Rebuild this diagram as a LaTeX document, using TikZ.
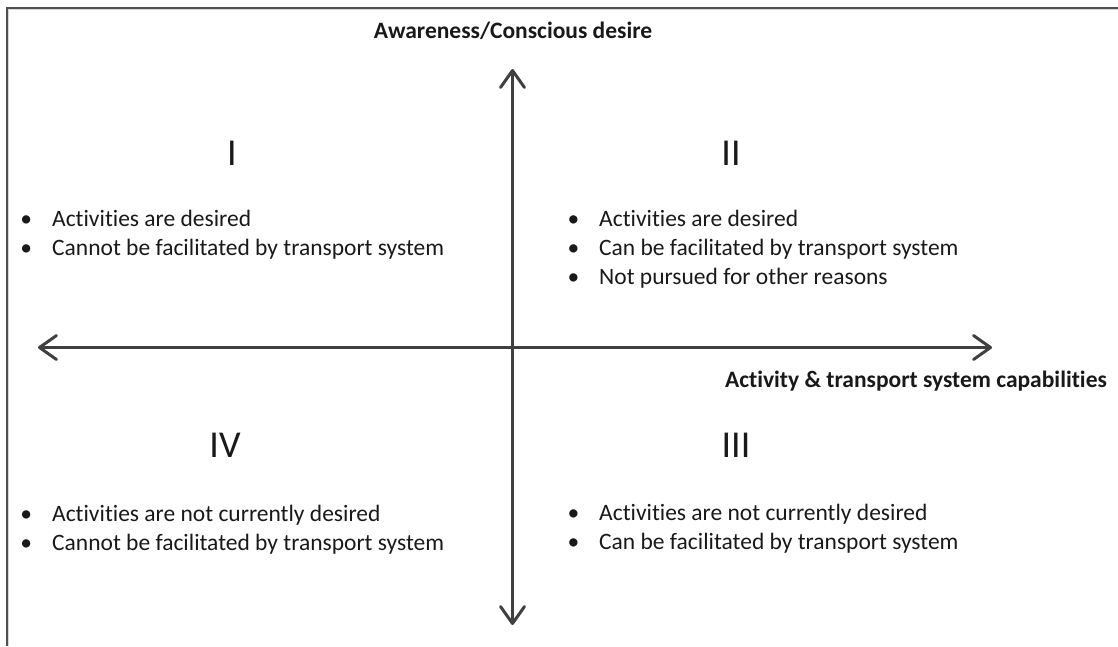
\documentclass[tikz,border=0pt]{standalone}
\usepackage{fontspec}
\setmainfont{Carlito}[Ligatures=NoCommon]
\usetikzlibrary{arrows.meta}
\definecolor{axisgray}{RGB}{64,64,64}
\definecolor{framegray}{RGB}{80,80,80}
\definecolor{shadowgray}{RGB}{215,215,215}
\definecolor{textcol}{RGB}{25,25,25}
\newcommand\bul{\llap{\textbullet\hspace{20pt}}}
\tikzset{
  itemtext/.style={anchor=base west, inner sep=0pt, text=textcol, font=\fontsize{23.5}{28}\selectfont},
  numeral/.style={anchor=base, inner sep=0pt, text=textcol, font=\fontsize{38}{44}\selectfont},
  axislabel/.style={inner sep=0pt, text=textcol, font=\bfseries\fontsize{23.5}{28}\selectfont},
  axis/.style={line width=3pt, draw=axisgray,
    {Straight Barb[length=17pt, width=24pt, line cap=round, line join=round]}-{Straight Barb[length=17pt, width=24pt, line cap=round, line join=round]}}
}
\begin{document}
\begin{tikzpicture}[x=1pt, y=1pt]
\useasboundingbox (0,0) rectangle (1118,-646);
% frame
\draw[shadowgray, line width=1pt] (8.6,-646) -- (8.6,-9.7) -- (1118,-9.7);
\draw[framegray, line width=2.2pt] (6.9,-646) -- (6.9,-7.8) -- (1118,-7.8);
% axes
\coordinate (top) at (512.5,-69);
\coordinate (bottom) at (512.5,-625);
\coordinate (left) at (38,-347.5);
\coordinate (right) at (992,-347.5);
\draw[axis] (bottom) -- (top);
\draw[axis] (left) -- (right);
% axis labels
\node[axislabel, anchor=base] (ylabel) at (513,-38) {Awareness/Conscious desire};
\node[axislabel, anchor=base east] (xlabel) at (1107,-387) {Activity \& transport system capabilities};
% numerals
\node[numeral] (q1) at (232,-165) {I};
\node[numeral] (q2) at (731,-165) {II};
\node[numeral] (q4) at (225,-457) {IV};
\node[numeral] (q3) at (736,-457) {III};
% quadrant I
\node[itemtext] (q1a) at (52,-226) {\bul Activities are desired};
\node[itemtext] (q1b) at (52,-255) {\bul Cannot be facilitated by transport system};
% quadrant II
\node[itemtext] (q2a) at (599,-226) {\bul Activities are desired};
\node[itemtext] (q2b) at (599,-255) {\bul Can be facilitated by transport system};
\node[itemtext] (q2c) at (599,-284) {\bul Not pursued for other reasons};
% quadrant IV
\node[itemtext] (q4a) at (52,-521) {\bul Activities are not currently desired};
\node[itemtext] (q4b) at (52,-550) {\bul Cannot be facilitated by transport system};
% quadrant III
\node[itemtext] (q3a) at (599,-520) {\bul Activities are not currently desired};
\node[itemtext] (q3b) at (599,-549) {\bul Can be facilitated by transport system};
\end{tikzpicture}
\end{document}
